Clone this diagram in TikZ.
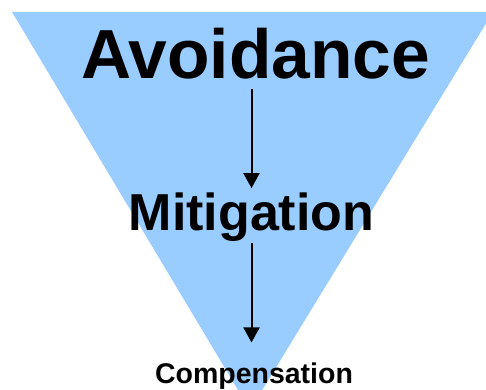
\documentclass[tikz,border=0pt]{standalone}
\usepackage{fontspec}
\setmainfont{Liberation Sans}
\usetikzlibrary{arrows.meta}
\definecolor{triblue}{RGB}{153,204,255}
\begin{document}
\begin{tikzpicture}[x=1pt,y=1pt,
  lbl/.style={inner sep=0pt,anchor=base,font=\bfseries},
  arr/.style={line width=2pt,-{Triangle[length=15pt,width=16pt]}}]
\useasboundingbox (0,0) rectangle (486,389);
\clip (0,0) rectangle (486,389);
\fill[triblue] (12,377) -- (493,377) -- (250,-21) -- cycle;
\node[lbl,font=\bfseries\fontsize{69.5}{80}\selectfont] (avoid) at (255.5,310) {Avoidance};
\node[lbl,font=\bfseries\fontsize{52}{60}\selectfont] (mitig) at (251.5,159) {Mitigation};
\node[lbl,font=\bfseries\fontsize{28.5}{34}\selectfont] (comp) at (254,5.7) {Compensation};
\draw[arr,shorten <=9pt,shorten >=4pt] (avoid.south -| mitig.north) -- (mitig.north);
\draw[arr,shorten <=1.5pt,shorten >=20pt] (mitig.south) -- (mitig.south |- comp.north);
\end{tikzpicture}
\end{document}
